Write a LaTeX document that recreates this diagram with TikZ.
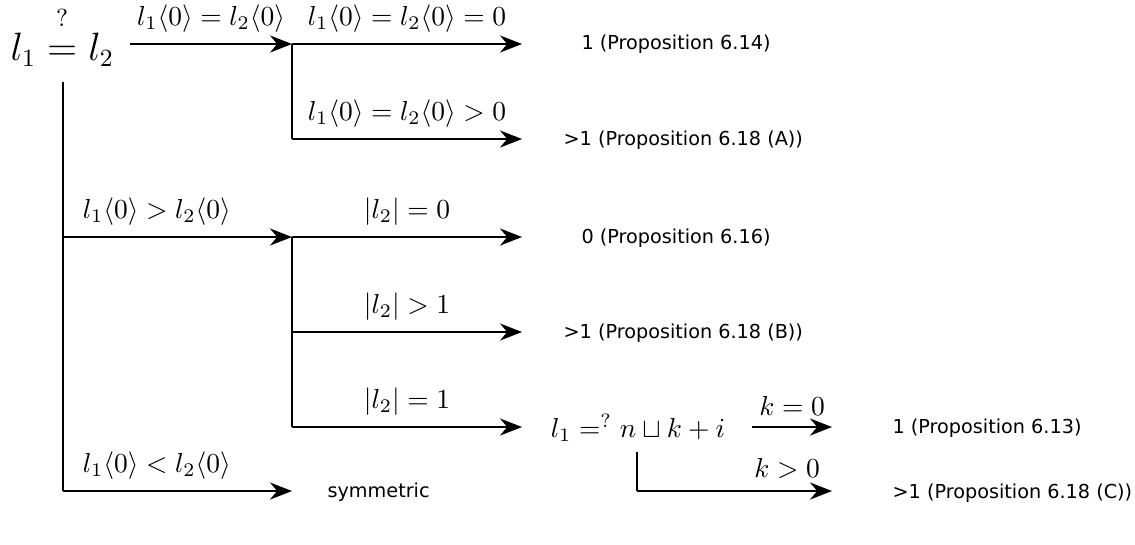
\documentclass[tikz,border=0pt]{standalone}
\usepackage{amsmath}
\usepackage{amssymb}
\usepackage{fontspec}
\newfontfamily\resfont{DejaVu Sans}
\usetikzlibrary{arrows.meta}

\begin{document}
\begin{tikzpicture}[x=0.364pt, y=-0.364pt,
  flow/.style={-{Stealth[length=8pt, width=6.2pt]}, line width=0.75pt},
  branch/.style={line width=0.75pt},
  cond/.style={above=3.5pt, inner sep=0.5pt},
  result/.style={anchor=west, inner sep=0pt, font=\resfont\fontsize{7}{8}\selectfont},
]
  \useasboundingbox (0,0) rectangle (1135,544);

  % Question
  \node[anchor=west, inner sep=0pt, font=\fontsize{13.5}{16}\selectfont] (q) at (10,36) {$l_1 \mathrel{\overset{\raisebox{4.5pt}{$\scriptstyle ?$}}{=}} l_2$};

  % Branch points
  \coordinate (s0) at (130,44);
  \coordinate (b1) at (292,44);
  \coordinate (b1e) at (522,44);
  \coordinate (b2) at (292,139);
  \coordinate (b2e) at (522,139);
  \coordinate (v0) at (63,82);
  \coordinate (c1) at (63,237);
  \coordinate (b3) at (292,237);
  \coordinate (b3e) at (522,237);
  \coordinate (b4) at (292,332);
  \coordinate (b4e) at (522,332);
  \coordinate (b5) at (292,427);
  \coordinate (b5e) at (522,427);
  \coordinate (c3) at (63,491);
  \coordinate (c3e) at (292,491);
  \coordinate (k0) at (752,427);
  \coordinate (k0e) at (832,427);
  \coordinate (d0) at (637,452);
  \coordinate (d1) at (637,491);
  \coordinate (d1e) at (832,491);

  % Results
  \node[result] (r1) at (581,44) {1 (Proposition 6.14)};
  \node[result] (r2) at (563,140) {>1 (Proposition 6.18 (A))};
  \node[result] (r3) at (581,238) {0 (Proposition 6.16)};
  \node[result] (r4) at (563,333) {>1 (Proposition 6.18 (B))};
  \node (eq2) at (638,428) {$l_1 =^? n \sqcup k + i$};
  \node[result] (r6) at (892,428) {1 (Proposition 6.13)};
  \node[result] (r7) at (892,493) {>1 (Proposition 6.18 (C))};
  \node[result] (sym) at (327,492) {symmetric};

  % Equal heads
  \draw[flow] (s0) -- node[cond] {$l_1\langle 0\rangle = l_2\langle 0\rangle$} (b1);
  \draw[flow] (b1) -- node[cond] {$l_1\langle 0\rangle = l_2\langle 0\rangle = 0$} (b1e);
  \draw[branch] (b1) -- (b2);
  \draw[flow] (b2) -- node[cond] {$l_1\langle 0\rangle = l_2\langle 0\rangle > 0$} (b2e);

  % Main trunk
  \draw[branch] (v0) -- (c3);
  \draw[flow] (c1) -- node[cond, pos=0.41] {$l_1\langle 0\rangle > l_2\langle 0\rangle$} (b3);
  \draw[flow] (c3) -- node[cond, pos=0.41] {$l_1\langle 0\rangle < l_2\langle 0\rangle$} (c3e);

  % Greater heads
  \draw[branch] (b3) -- (b5);
  \draw[flow] (b3) -- node[cond] {$|l_2| = 0$} (b3e);
  \draw[flow] (b4) -- node[cond] {$|l_2| > 1$} (b4e);
  \draw[flow] (b5) -- node[cond] {$|l_2| = 1$} (b5e);

  % Split on k
  \draw[flow] (k0) -- node[cond] {$k = 0$} (k0e);
  \draw[branch] (d0) -- (d1);
  \draw[flow] (d1) -- node[cond, pos=0.77] {$k > 0$} (d1e);

\end{tikzpicture}
\end{document}
